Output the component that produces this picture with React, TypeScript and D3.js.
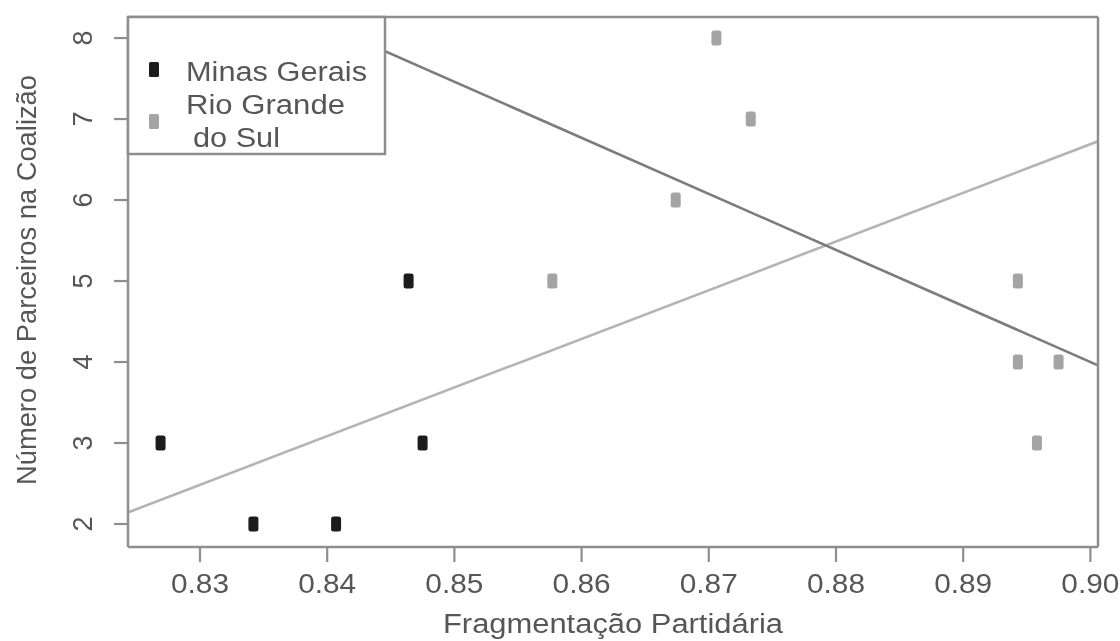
import React, { useEffect, useRef } from 'react';
import * as d3 from 'd3';

// Minas Gerais points
const mgFrag = [0.8269, 0.8342, 0.8407, 0.8464, 0.8475];
const mgParc = [3, 2, 2, 5, 3];
// Rio Grande do Sul points
const rsFrag = [0.8577, 0.8674, 0.8706, 0.8733, 0.8943, 0.8943, 0.8975, 0.8958];
const rsParc = [5, 6, 8, 7, 5, 4, 4, 3];
// fitted lines (intercept, slope)
const lineNames = ['Minas Gerais', 'Rio Grande do Sul'];
const lineIntercepts = [66.28, -47.4];
const lineSlopes = [-69.2, 60.1];

const xTicks = [0.83, 0.84, 0.85, 0.86, 0.87, 0.88, 0.89, 0.9];
const yTicks = [2, 3, 4, 5, 6, 7, 8];

const App = () => {
    const ref = useRef<SVGSVGElement>(null);

    useEffect(() => {
        const svg = d3.select(ref.current);
        svg.selectAll('*').remove();
        const width = 1120, height = 641;
        const left = 128, right = 1098, top = 17, bottom = 547;
        const font = 'Liberation Sans, Arial, sans-serif';
        const textCol = '#575757';
        const axisCol = '#8e8e8e';

        const x = d3.scaleLinear().domain([0.82434, 0.9006]).range([left, right]);
        const y = d3.scaleLinear().domain([1.716, 8.26]).range([bottom, top]);

        const defs = svg.append('defs');
        defs.append('filter').attr('id', 'soft')
            .append('feGaussianBlur').attr('stdDeviation', 0.6);
        defs.append('clipPath').attr('id', 'plotclip')
            .append('rect').attr('x', left).attr('y', top)
            .attr('width', right - left).attr('height', bottom - top);

        const g = svg.append('g').attr('filter', 'url(#soft)');
        g.append('rect').attr('width', width).attr('height', height).attr('fill', '#fff');

        // regression lines
        const lineCols = ['#7c7c7c', '#b4b4b4'];
        const order = [1, 0];
        const lg = g.append('g').attr('clip-path', 'url(#plotclip)');
        order.forEach((i) => {
            const xs = x.domain();
            const pts = xs.map((v) => [x(v), y(lineIntercepts[i] + lineSlopes[i] * v)] as [number, number]);
            lg.append('path')
                .attr('class', 'fit ' + lineNames[i])
                .attr('d', d3.line()(pts))
                .attr('stroke', lineCols[i])
                .attr('stroke-width', 2.6)
                .attr('fill', 'none');
        });

        // points
        const mw = 10, mh = 15;
        const drawPts = (fx: number[], fy: number[], col: string) => {
            g.append('g').selectAll('rect')
                .data(fx.map((v, i) => ({ fx: v, fy: fy[i] })))
                .enter()
                .append('rect')
                .attr('x', (d) => x(d.fx) - mw / 2)
                .attr('y', (d) => y(d.fy) - mh / 2)
                .attr('width', mw)
                .attr('height', mh)
                .attr('rx', 2.5)
                .attr('fill', col);
        };
        drawPts(mgFrag, mgParc, '#1b1b1b');
        drawPts(rsFrag, rsParc, '#a4a4a4');

        // x axis
        g.append('line').attr('x1', left).attr('x2', right).attr('y1', bottom).attr('y2', bottom)
            .attr('stroke', axisCol).attr('stroke-width', 2.5);
        xTicks.forEach((t) => {
            g.append('line').attr('x1', x(t)).attr('x2', x(t)).attr('y1', bottom).attr('y2', bottom + 15)
                .attr('stroke', axisCol).attr('stroke-width', 2.2);
            g.append('text').attr('x', x(t)).attr('y', 593)
                .attr('text-anchor', 'middle')
                .attr('font-family', font).attr('font-size', 27)
                .attr('textLength', 58).attr('lengthAdjust', 'spacingAndGlyphs')
                .attr('fill', textCol)
                .text(d3.format('.2f')(t));
        });

        // y axis
        g.append('line').attr('x1', left).attr('x2', left).attr('y1', top).attr('y2', bottom)
            .attr('stroke', axisCol).attr('stroke-width', 2.5);
        yTicks.forEach((t) => {
            g.append('line').attr('x1', left - 14).attr('x2', left).attr('y1', y(t)).attr('y2', y(t))
                .attr('stroke', axisCol).attr('stroke-width', 2.2);
            g.append('text')
                .attr('transform', `translate(92,${y(t)}) rotate(-90)`)
                .attr('text-anchor', 'middle')
                .attr('font-family', font).attr('font-size', 27)
                .attr('fill', textCol)
                .text(t);
        });

        // box top/right
        g.append('line').attr('x1', left).attr('x2', right).attr('y1', top).attr('y2', top)
            .attr('stroke', axisCol).attr('stroke-width', 2.5);
        g.append('line').attr('x1', right).attr('x2', right).attr('y1', top).attr('y2', bottom)
            .attr('stroke', axisCol).attr('stroke-width', 2.5);

        // axis titles
        g.append('text').attr('x', (left + right) / 2).attr('y', 633)
            .attr('text-anchor', 'middle')
            .attr('font-family', font).attr('font-size', 27)
            .attr('textLength', 340).attr('lengthAdjust', 'spacingAndGlyphs')
            .attr('fill', textCol)
            .text('Fragmentação Partidária');
        g.append('text')
            .attr('transform', 'translate(36,280) rotate(-90)')
            .attr('text-anchor', 'middle')
            .attr('font-family', font).attr('font-size', 27)
            .attr('textLength', 410).attr('lengthAdjust', 'spacingAndGlyphs')
            .attr('fill', textCol)
            .text('Número de Parceiros na Coalizão');

        // legend
        const leg = g.append('g');
        leg.append('rect').attr('x', left).attr('y', top).attr('width', 385 - left).attr('height', 154 - top)
            .attr('fill', '#fff').attr('stroke', axisCol).attr('stroke-width', 2.5);
        leg.append('rect').attr('x', 149).attr('y', 62).attr('width', mw).attr('height', mh)
            .attr('rx', 1.5).attr('fill', '#1b1b1b');
        leg.append('rect').attr('x', 149).attr('y', 114).attr('width', mw).attr('height', mh)
            .attr('rx', 1.5).attr('fill', '#a4a4a4');
        const legText = [
            { t: 'Minas Gerais', x: 186, y: 81, w: 181 },
            { t: 'Rio Grande', x: 186, y: 114, w: 159 },
            { t: 'do Sul', x: 193, y: 147, w: 87 },
        ];
        legText.forEach((d) => {
            leg.append('text').attr('x', d.x).attr('y', d.y)
                .attr('font-family', font).attr('font-size', 27)
                .attr('textLength', d.w).attr('lengthAdjust', 'spacingAndGlyphs')
                .attr('fill', textCol)
                .text(d.t);
        });
    }, []);

    return (
        <svg ref={ref} width={1120} height={641}
            style={{ position: 'absolute', left: 0, top: 0, background: '#fff' }} />
    );
};

export default App;
